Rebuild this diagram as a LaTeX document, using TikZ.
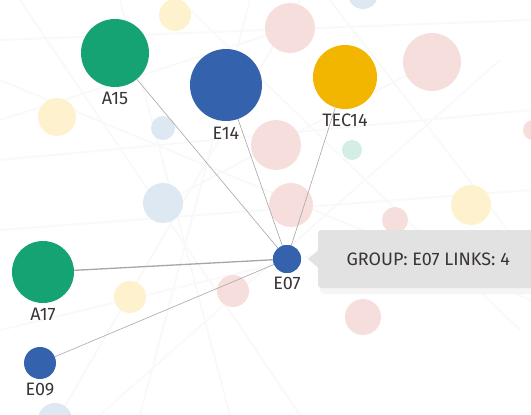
\documentclass[tikz,border=0pt]{standalone}
\usepackage{fontspec}
\setmainfont{Fira Sans}
\usetikzlibrary{positioning,calc}

\definecolor{grpgreen}{RGB}{21,163,116}
\definecolor{grpblue}{RGB}{52,98,172}
\definecolor{grpyellow}{RGB}{242,182,0}
\definecolor{labelgray}{RGB}{58,52,56}
\definecolor{tipgray}{RGB}{226,226,226}
\definecolor{fadepink}{RGB}{246,222,220}
\definecolor{fadeyellow}{RGB}{254,241,205}
\definecolor{fadeblue}{RGB}{221,232,242}
\definecolor{fademint}{RGB}{212,238,229}

\tikzset{
    dot/.style={circle,inner sep=0pt,minimum size=#1},
    faint/.style={draw=gray!5,line width=2pt},
    link/.style={draw=gray!70,line width=0.6pt},
    tag/.style={font=\fontsize{18}{18}\selectfont,text=labelgray}
}

\begin{document}
\begin{tikzpicture}[x=1pt,y=-1pt]
    \useasboundingbox (0,0) rectangle (531,415);

    % Background links
    \foreach \a/\b/\c/\d in {0/40/531/20, 0/160/531/110, 20/0/300/415, 120/0/230/415,
        0/230/531/190, 180/0/520/330, 0/330/420/230, 60/415/300/0, 330/0/531/260,
        0/80/531/300, 100/415/500/60, 250/0/140/415, 0/120/290/28, 163/203/432/62} {
        \draw[faint] (\a,\b) -- (\c,\d);
    }

    % Background nodes
    \foreach \x/\y/\r/\col in {175/15/32/fadeyellow, 290/28/50/fadepink, 363/-6/30/fadeblue,
        432/62/58/fadepink, 57/117/38/fadeyellow, 163/128/24/fadeblue, 276/145/50/fadepink,
        352/150/20/fademint, 163/203/40/fadeblue, 291/205/44/fadepink, 395/220/26/fadepink,
        471/205/40/fadeyellow, 130/297/32/fadeyellow, 233/291/32/fadepink, 363/317/36/fadepink,
        533/130/20/fadepink, 55/420/34/fadeblue} {
        \node[dot=\r,fill=\col] at (\x,\y) {};
    }

    % Group nodes
    \node[dot=68,fill=grpgreen] (a15) at (115,53) {};
    \node[tag,below=1pt of a15] (a15l) {A15};
    \node[dot=72,fill=grpblue] (e14) at (226,85) {};
    \node[tag,below=2pt of e14] (e14l) {E14};
    \node[dot=64,fill=grpyellow] (tec14) at (345,77) {};
    \node[tag,below=1pt of tec14] (tec14l) {TEC14};
    \node[dot=62,fill=grpgreen] (a17) at (43,272) {};
    \node[tag,below=1pt of a17] (a17l) {A17};
    \node[dot=32,fill=grpblue] (e09) at (40,363) {};
    \node[tag,below=0pt of e09] (e09l) {E09};

    % Links to E07
    \node[dot=28,fill=grpblue] (e07) at (287,259) {};
    \draw[link] (a15) -- (e07);
    \draw[link] (e14) -- (e07);
    \draw[link] (tec14) -- (e07);
    \draw[link,line width=1.3pt] (a17) -- (e07);
    \draw[link] (e09) -- (e07);
    \node[dot=28,fill=grpblue] at (e07) {};
    \node[tag,below=0pt of e07] (e07l) {E07};

    % Tooltip
    \fill[gray!8,rounded corners=4pt] (320,234) rectangle (535,294);
    \node[fill=tipgray,rounded corners=3pt,minimum width=220pt,minimum height=58pt,
        anchor=west,font=\fontsize{18}{18}\selectfont,text=labelgray] (tip) at (318,259) {GROUP: E07 LINKS: 4};
    \fill[tipgray] ($(tip.west)+(0.5,-9)$) -- ($(tip.west)+(-10,0)$) -- ($(tip.west)+(0.5,9)$) -- cycle;
\end{tikzpicture}
\end{document}
